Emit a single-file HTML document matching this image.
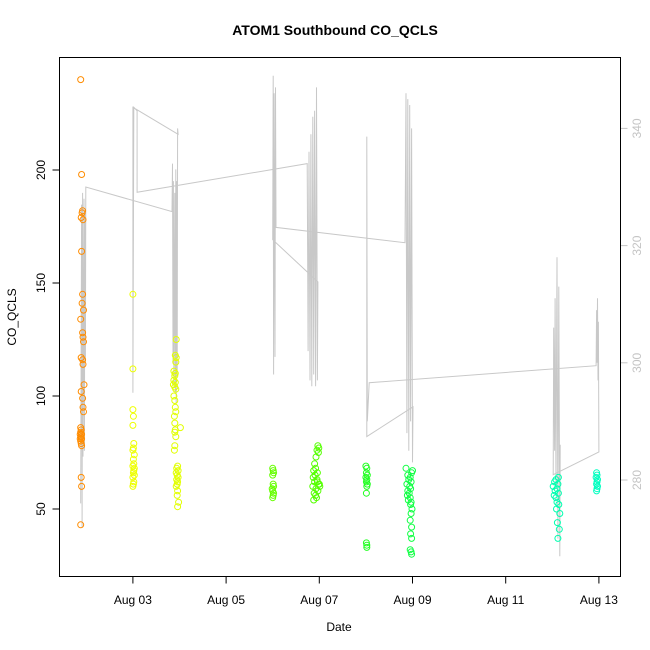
<!DOCTYPE html>
<html><head><meta charset="utf-8"><style>
html,body{margin:0;padding:0;background:#fff}
svg{display:block;font-family:"Liberation Sans",sans-serif}
</style></head><body>
<svg id="chart" width="650" height="650" viewBox="0 0 650 650">
<text x="335" y="35" text-anchor="middle" font-size="14" font-weight="bold">ATOM1 Southbound CO_QCLS</text>
<text x="339" y="631" text-anchor="middle" font-size="12">Date</text>
<text transform="translate(16,317) rotate(-90)" text-anchor="middle" font-size="12">CO_QCLS</text>
<g id="grayline"></g>
<g id="points"></g>
<g id="axes"></g>
<rect x="59.5" y="57.5" width="561" height="519" fill="none" stroke="#000" stroke-width="1"/>
</svg>
<script>
const xTickDays = [2, 4, 6, 8, 10, 12];
const xTickLabels = ["Aug 03", "Aug 05", "Aug 07", "Aug 09", "Aug 11", "Aug 13"];
const yTicks = [50, 100, 150, 200];
const y2Ticks = [280, 300, 320, 340];

const lineT = [0.88,0.90,0.91,0.92,0.93,0.95,0.96,0.97,0.98,0.99,
  2.84,2.85,2.86,2.87,2.88,2.90,2.91,2.92,2.93,2.94,2.95,2.96,2.97,
  2.0,2.0,2.02,2.09,2.09,
  5.74,5.76,5.78,5.80,5.82,5.84,5.86,5.88,5.90,5.92,5.94,5.96,5.97,
  5.0,5.01,5.02,5.03,5.05,5.06,5.07,
  7.84,7.86,7.88,7.90,7.92,7.94,7.96,7.98,8.00,8.01,
  7.02,7.02,7.03,7.07,
  11.94,11.95,11.96,11.97,11.98,11.99,12.0,
  11.02,11.03,11.05,11.06,11.08,11.10,11.12,11.14,11.16,11.17];
const lineV = [276,327,272,329,284,328,285,326,300,330,
  325.8,334,300,331,296,329,295,333,293,331,298,340,339,
  343.6,294.9,343.6,343,329.1,
  334,302,336,297,339,296,342,298,343,296,347,297,313.8,
  321,349,298,346,301,347,323.1,
  320.5,346,288,345,285,344,290,340,283,292.5,
  287.4,338.6,290,296.6,
  299.5,309,300,311,297,307,284.8,
  280.9,306,285,311,279,318,270,313,267,286];

const tA=[0.88,0.90,0.92,0.91,0.89,0.93,0.90,0.92,0.91,0.94,0.88,0.92,0.93,0.94,0.89,0.92,0.93,0.95,0.89,0.92,0.93,0.94,0.88,0.89,0.88,0.90,0.87,0.89,0.88,0.90,0.87,0.88,0.89,0.90,0.89,0.90,0.88];
const vA=[240,198,182,181,179,178,164,145,141,138,134,128,126,124,117,116,114,105,102,99,95,93,86,85,84,83,83,82,82,81,81,80,79,78,64,60,43];
const tB=[2.0,2.0,2.0,2.01,2.0,2.02,2.01,2.0,2.03,2.01,2.02,2.0,2.03,2.02,2.01,2.03,2.0,2.02,2.01,2.0];
const vB=[145,112,94,91,87,79,77,76,74,72,70,69,68,67,66,65,64,62,61,60];
const tC=[2.93,2.91,2.93,2.92,2.88,2.91,2.90,2.88,2.91,2.87,2.90,2.92,2.88,2.90,2.91,2.92,2.89,2.90,3.02,2.91,2.90,2.92,2.90,2.89,2.96,2.94,2.97,2.93,2.95,2.97,2.94,2.96,2.95,2.93,2.96,2.95,2.98,2.96];
const vC=[125,118,117,115,111,110,109,107,106,105,104,103,100,98,95,93,91,88,86,85,84,82,78,76,69,68,67,66,65,64,63,62,61,60,58,56,53,51];
const tD=[5.0,5.01,5.02,5.0,5.01,5.02,4.99,5.0,5.02,5.01,5.0];
const vD=[68,67,66,65,61,60,59,58,57,56,55];
const tE=[5.97,5.99,5.95,5.98,5.93,5.90,5.92,5.88,5.96,5.91,5.87,5.95,5.90,5.99,5.86,5.93,5.97,5.89,5.92,5.94,5.88,6.01,6.0,5.96];
const vE=[78,77,76,75,73,70,68,67,66,65,64,63,62,61,60,59,58,57,56,55,54,60,61,62];
const tF=[7.0,7.02,7.01,7.03,7.0,7.02,7.01,7.03,7.02,7.01,7.01,7.02,7.02];
const vF=[69,68,66,65,64,63,62,61,60,57,35,34,33];
const tG=[7.86,8.0,7.98,7.90,7.95,7.92,7.97,7.88,7.94,7.96,7.90,7.93,7.89,7.95,7.91,7.97,7.96,7.99,7.97,7.95,7.98,7.96,7.98,7.95,7.97,7.98];
const vG=[68,67,66,65,64,63,62,61,60,59,58,57,56,55,54,53,52,50,48,45,42,39,37,32,31,30];
const tH=[11.13,11.08,11.05,11.12,11.02,11.10,11.06,11.13,11.04,11.08,11.10,11.14,11.09,11.16,11.11,11.15,11.12];
const vH=[64,63,62,61,60,59,58,57,56,55,53,52,50,48,44,41,37];
const tI=[11.95,11.96,11.94,11.97,11.96,11.95,11.97,11.96,11.95];
const vI=[66,65,64,63,62,61,60,59,58];

const clusters=[[tA,vA,"#FF8C00"],[tB,vB,"#EEFF00"],[tC,vC,"#E2FF00"],[tD,vD,"#66FF00"],[tE,vE,"#55FF00"],[tF,vF,"#22FF22"],[tG,vG,"#11FF44"],[tH,vH,"#00FFB0"],[tI,vI,"#00FFC0"]];

function X(d){return 39.7+d*46.6;}
function Y(v){return 509-(v-50)*2.26;}
function Y2(v){return 480-(v-280)*5.86;}
const NS="http://www.w3.org/2000/svg";
function mk(tag,attrs,parent){const e=document.createElementNS(NS,tag);for(const k in attrs)e.setAttribute(k,attrs[k]);parent.appendChild(e);return e;}

const gl=document.getElementById('grayline');
let d="";
for(let i=0;i<lineT.length;i++){d+=(i?"L":"M")+X(lineT[i]).toFixed(1)+","+Y2(lineV[i]).toFixed(1);}
const pl=mk('path',{d:d,fill:"none",stroke:"#c8c8c8","stroke-width":1},gl);



const pg=document.getElementById('points');
clusters.forEach(function(c,ci){
  for(let i=0;i<c[0].length;i++){
    const p=mk('circle',{cx:X(c[0][i]).toFixed(1),cy:Y(c[1][i]).toFixed(1),r:3,fill:"none",stroke:c[2],"stroke-width":1},pg);
    
    
  }
});

const ax=document.getElementById('axes');
mk('line',{x1:X(xTickDays[0]),x2:X(xTickDays[xTickDays.length-1]),y1:576.5,y2:576.5,stroke:"#000"},ax);
xTickDays.forEach(function(t,i){
  mk('line',{x1:X(t),x2:X(t),y1:576.5,y2:583.5,stroke:"#000"},ax);
  const tx=mk('text',{x:X(t),y:604,"text-anchor":"middle","font-size":12},ax);
  tx.textContent=xTickLabels[i];
  
  
});
mk('line',{x1:59.5,x2:59.5,y1:Y(yTicks[0]),y2:Y(yTicks[yTicks.length-1]),stroke:"#000"},ax);
yTicks.forEach(function(v){
  mk('line',{x1:52.5,x2:59.5,y1:Y(v),y2:Y(v),stroke:"#000"},ax);
  const tx=mk('text',{transform:"translate(45,"+Y(v)+") rotate(-90)","text-anchor":"middle","font-size":12},ax);
  tx.textContent=v;
  
  
});
mk('line',{x1:620.5,x2:620.5,y1:Y2(y2Ticks[0]),y2:Y2(y2Ticks[y2Ticks.length-1]),stroke:"#c4c4c4"},ax);
y2Ticks.forEach(function(v){
  mk('line',{x1:620.5,x2:627.5,y1:Y2(v),y2:Y2(v),stroke:"#c4c4c4"},ax);
  const tx=mk('text',{transform:"translate(641,"+Y2(v)+") rotate(-90)","text-anchor":"middle","font-size":12,fill:"#c4c4c4"},ax);
  tx.textContent=v;
  
  
});
</script>
</body></html>
